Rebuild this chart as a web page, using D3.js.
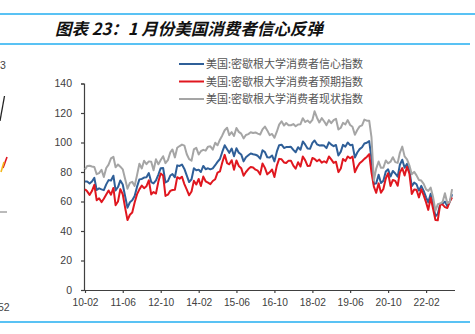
<!DOCTYPE html>
<html>
<head>
<meta charset="utf-8">
<script src="https://cdn.jsdelivr.net/npm/d3@7"></script>
<style>
  html, body { margin: 0; padding: 0; background: #fff; }
  svg { display: block; }
</style>
</head>
<body>
<svg id="chart" width="475" height="334"></svg>
<script>
// Monthly series, 2010-02 through 2023-01
const startMonth = "2010-02";

const sentiment = [
  73.6, 73.6, 72.2, 73.6, 76.0, 67.8, 68.9, 68.2, 67.7, 71.6, 74.5,
  74.2, 77.5, 67.5, 69.8, 74.3, 71.5, 63.7, 55.8, 59.5, 60.8, 63.7, 69.9,
  75.0, 75.3, 76.2, 76.4, 79.3, 73.2, 72.3, 74.3, 78.3, 82.6, 82.7, 72.9,
  73.8, 77.6, 78.6, 76.4, 84.5, 84.1, 85.1, 82.1, 77.5, 73.2, 75.1, 82.5,
  81.2, 81.6, 80.0, 84.1, 81.9, 82.5, 81.8, 82.5, 84.6, 86.9, 88.8, 93.6,
  98.1, 95.4, 93.0, 95.9, 90.7, 96.1, 93.1, 91.9, 87.2, 90.0, 91.3, 92.6,
  92.0, 91.7, 91.0, 89.0, 94.7, 93.5, 90.0, 89.8, 91.2, 87.2, 93.8, 98.2,
  98.5, 96.3, 96.9, 97.0, 97.1, 95.0, 93.4, 96.8, 95.1, 100.7, 98.5, 95.9,
  95.7, 99.7, 101.4, 98.8, 98.0, 98.2, 97.9, 96.2, 100.1, 98.6, 97.5, 98.3,
  91.2, 93.8, 98.4, 97.2, 100.0, 98.2, 98.4, 89.8, 93.2, 95.5, 96.8, 99.3,
  99.8, 101.0, 89.1, 71.8, 72.3, 78.1, 72.5, 74.1, 80.4, 81.8, 76.9, 80.7,
  79.0, 76.8, 84.9, 88.3, 82.9, 85.5, 81.2, 70.3, 72.8, 71.7, 67.4, 70.6,
  67.2, 62.8, 59.4, 65.2, 58.4, 50.0, 51.5, 58.2, 58.6, 59.9, 56.8, 59.7,
  64.9
];

const expectations = [
  68.3, 66.9, 64.5, 67.1, 71.3, 60.9, 62.2, 59.6, 61.9, 64.8, 67.5,
  64.6, 69.2, 57.5, 60.0, 68.4, 64.9, 56.0, 47.4, 51.0, 52.5, 59.3, 64.8,
  68.2, 70.8, 69.0, 70.4, 74.3, 64.8, 66.4, 65.4, 73.5, 79.0, 77.6, 63.8,
  64.6, 67.2, 67.8, 68.0, 76.5, 75.5, 76.8, 71.8, 68.1, 64.2, 66.8, 74.0,
  71.5, 75.3, 70.5, 76.9, 73.7, 72.8, 71.8, 73.9, 75.1, 79.6, 80.4, 86.4,
  91.6, 86.0, 85.2, 88.0, 81.5, 87.8, 84.1, 82.6, 77.5, 80.0, 82.0, 83.4,
  83.0, 81.6, 80.9, 78.4, 85.8, 82.8, 78.4, 79.8, 81.7, 76.6, 84.3, 88.9,
  88.6, 86.5, 86.1, 87.7, 87.7, 84.3, 82.2, 86.6, 83.7, 90.5, 87.9, 84.1,
  84.3, 89.5, 88.8, 87.3, 88.4, 86.3, 87.3, 86.3, 90.5, 88.6, 86.2, 87.0,
  79.9, 82.4, 88.8, 87.4, 90.5, 89.3, 90.5, 79.9, 83.4, 85.9, 87.3, 88.9,
  90.2, 92.1, 79.7, 70.1, 65.9, 72.3, 65.9, 68.5, 75.6, 79.2, 70.5, 74.6,
  74.0, 70.7, 79.7, 82.7, 77.6, 83.5, 79.0, 65.1, 68.1, 67.9, 62.8, 68.3,
  64.1, 59.4, 54.3, 62.5, 55.3, 47.5, 47.3, 58.0, 57.9, 56.2, 55.6, 59.9,
  62.7
];

const currentConditions = [
  81.8, 84.1, 84.2, 83.7, 83.4, 78.5, 79.3, 81.5, 76.6, 82.7, 85.0,
  89.2, 90.3, 83.2, 85.1, 83.6, 81.8, 75.5, 68.7, 72.6, 73.3, 70.6, 77.7,
  85.6, 82.4, 87.6, 85.3, 87.2, 86.9, 81.2, 88.6, 85.2, 88.1, 90.7, 86.0,
  88.0, 93.3, 95.3, 89.9, 96.4, 97.6, 98.6, 97.9, 92.0, 88.7, 87.7, 95.3,
  96.4, 91.9, 94.1, 95.0, 94.5, 97.2, 97.4, 95.2, 99.8, 98.1, 101.9, 104.8,
  108.3, 110.0, 105.0, 107.0, 104.4, 109.8, 107.2, 106.0, 102.8, 105.1, 105.7, 106.9,
  106.4, 106.8, 106.0, 105.4, 108.9, 110.8, 108.2, 105.0, 105.8, 103.2, 107.3, 112.1,
  114.4, 111.5, 113.2, 111.7, 111.7, 112.5, 111.0, 112.2, 112.4, 116.5, 113.9, 114.9,
  113.3, 115.3, 121.2, 116.8, 113.6, 116.5, 114.4, 111.8, 115.2, 113.1, 115.2, 116.1,
  108.8, 110.0, 113.3, 112.3, 115.2, 111.9, 110.7, 105.3, 108.5, 110.9, 111.6, 115.5,
  114.8, 114.8, 103.7, 74.3, 82.3, 87.1, 82.8, 82.9, 87.8, 85.9, 87.0, 90.0,
  86.7, 86.2, 93.0, 97.2, 90.6, 88.6, 84.5, 78.5, 80.1, 77.7, 74.6, 74.2,
  72.0, 68.2, 67.2, 69.4, 63.3, 53.8, 58.1, 58.6, 59.7, 65.6, 58.8, 59.4,
  68.4
];

const seriesNames = [
  "美国:密歇根大学消费者信心指数",
  "美国:密歇根大学消费者预期指数",
  "美国:密歇根大学消费者现状指数"
];
const seriesColors = ["#2f5f98", "#e0171f", "#a5a5a5"];
const tickLabels = ["10-02", "11-06", "12-10", "14-02", "15-06", "16-10", "18-02", "19-06", "20-10", "22-02"];
const yTicks = [0, 20, 40, 60, 80, 100, 120, 140];

const titleText = "图表 23：1 月份美国消费者信心反弹";
const sourceText = "资料来源：Wind，国信证券经济研究所整理";

const parseMonth = d3.timeParse("%Y-%m");
const fmtMonth = d3.timeFormat("%y-%m");
const dates = d3.timeMonth.range(parseMonth(startMonth), d3.timeMonth.offset(parseMonth(startMonth), sentiment.length));

const svg = d3.select("#chart");
const ruleColor = "#22aef0";

// Header rules and title
svg.append("line").attr("x1", 0).attr("x2", 475).attr("y1", 14).attr("y2", 14)
  .attr("stroke", ruleColor).attr("stroke-width", 1.6);
svg.append("line").attr("x1", 0).attr("x2", 470).attr("y1", 44).attr("y2", 44)
  .attr("stroke", ruleColor).attr("stroke-width", 1.6);
svg.append("text").attr("x", 55).attr("y", 35)
  .attr("font-family", "'Noto Sans CJK SC', sans-serif")
  .attr("font-weight", "bold").attr("font-style", "italic")
  .attr("font-size", 16.5).attr("fill", "#111")
  .text(titleText);

// Footer rule and source line (runs off the bottom of the page)
svg.append("line").attr("x1", 0).attr("x2", 470).attr("y1", 322).attr("y2", 322)
  .attr("stroke", ruleColor).attr("stroke-width", 1.6);
svg.append("text").attr("x", 122).attr("y", 345)
  .attr("font-family", "'Noto Sans CJK SC', sans-serif")
  .attr("font-size", 11).attr("fill", "#444")
  .text(sourceText);

// Edge of the neighbouring panel
const edge = svg.append("g").attr("font-family", "'Liberation Sans', Arial, sans-serif")
  .attr("font-size", 10.5).attr("fill", "#444");
edge.append("text").attr("x", 0).attr("y", 69).text("3");
edge.append("text").attr("x", -2).attr("y", 311).text("52");
edge.append("line").attr("x1", 4.5).attr("y1", 96).attr("x2", 0).attr("y2", 121)
  .attr("stroke", "#222").attr("stroke-width", 1.3);
edge.append("line").attr("x1", 7).attr("y1", 157).attr("x2", 3).attr("y2", 168)
  .attr("stroke", "#e0171f").attr("stroke-width", 1.6);
edge.append("line").attr("x1", 4).attr("y1", 162).attr("x2", 1).attr("y2", 172)
  .attr("stroke", "#f2b81c").attr("stroke-width", 1.6);
edge.append("line").attr("x1", 0).attr("y1", 212).attr("x2", 7).attr("y2", 212)
  .attr("stroke", "#777").attr("stroke-width", 1);

// Scales
const x = d3.scaleTime()
  .domain([dates[0], d3.timeMonth.offset(dates[0], 156)])
  .range([85, 454.5]);
const y = d3.scaleLinear().domain([0, 140]).range([290, 83.5]);

const axisFont = "'Liberation Sans', Arial, sans-serif";
const axisColor = "#404040";

// Y axis
const yAxis = svg.append("g").attr("transform", "translate(84,0)")
  .call(d3.axisLeft(y).tickValues(yTicks).tickSize(3).tickPadding(9).tickFormat(d3.format("d")));
yAxis.select(".domain").attr("stroke", axisColor).attr("stroke-width", 1.2);
yAxis.selectAll(".tick line").attr("stroke", axisColor).attr("stroke-width", 1.2);
yAxis.selectAll(".tick text").attr("font-family", axisFont).attr("font-size", 10.5).attr("fill", axisColor);

// X axis
const tickDates = tickLabels.map(t => parseMonth("20" + t));
const xAxis = svg.append("g").attr("transform", "translate(0,290)")
  .call(d3.axisBottom(x).tickValues(tickDates).tickSize(3).tickPadding(6).tickFormat(fmtMonth).tickSizeOuter(0));
xAxis.select(".domain").attr("stroke", axisColor).attr("stroke-width", 1.2);
xAxis.selectAll(".tick line").attr("stroke", axisColor).attr("stroke-width", 1.2);
xAxis.selectAll(".tick text").attr("font-family", axisFont).attr("font-size", 10.2).attr("fill", axisColor);

// Lines
const seriesValues = [sentiment, expectations, currentConditions];
const line = d3.line().x((d, i) => x(dates[i])).y(d => y(d));
seriesValues.forEach((vals, k) => {
  svg.append("path").datum(vals)
    .attr("fill", "none")
    .attr("stroke", seriesColors[k])
    .attr("stroke-width", 2)
    .attr("stroke-linejoin", "round")
    .attr("d", line);
});

// Legend
const legend = svg.append("g");
seriesNames.forEach((name, k) => {
  const ly = 64 + k * 17.5;
  legend.append("line").attr("x1", 179).attr("x2", 204).attr("y1", ly).attr("y2", ly)
    .attr("stroke", seriesColors[k]).attr("stroke-width", 2);
  legend.append("text").attr("x", 206).attr("y", ly + 4)
    .attr("font-family", "'Noto Sans CJK SC', sans-serif")
    .attr("font-size", 11).attr("fill", "#555")
    .text(name);
});
</script>
</body>
</html>
